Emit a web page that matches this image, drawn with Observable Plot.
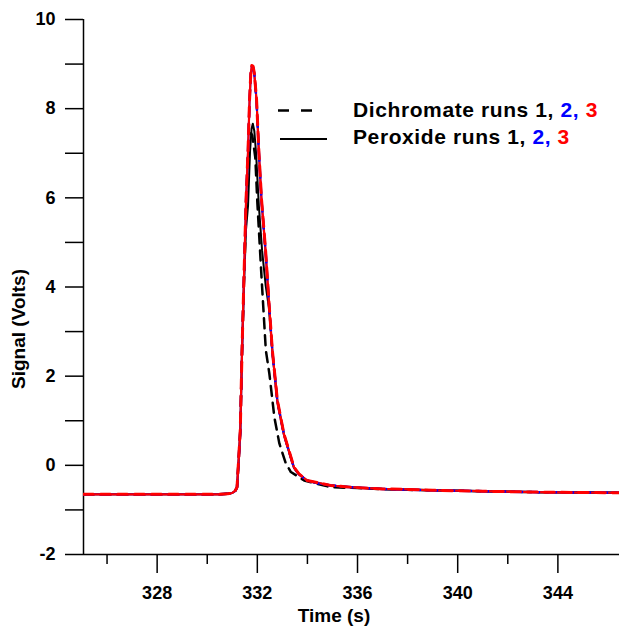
<!DOCTYPE html>
<html><head><meta charset="utf-8">
<script src="https://cdn.jsdelivr.net/npm/d3@7"></script>
<script src="https://cdn.jsdelivr.net/npm/@observablehq/plot@0.6"></script>
<style>
body{margin:0;background:#fff}
#chart{position:relative;width:619px;height:628px}
</style>
</head><body><div id="chart"></div>
<script>
// ---- axis ticks ----
const xDomain = [325.06, 346.46];
const yDomain = [-2, 10];
const xMajorTicks = [328, 332, 336, 340, 344];
const xMinorTicks = [326, 330, 334, 338, 342];
const yMajorTicks = [-2, 0, 2, 4, 6, 8, 10];
const yMinorTicks = [-1, 1, 3, 5, 7, 9];
const xLabel = "Time (s)";
const yLabel = "Signal (Volts)";

// ---- runs 2 and 3 (blue, red) ----
const tColored = [325.06, 328, 330.5, 330.8, 331.0, 331.12, 331.19, 331.25, 331.32, 331.39, 331.47, 331.55, 331.63, 331.69, 331.74, 331.78, 331.83, 331.88, 331.97, 332.06, 332.17, 332.33, 332.46, 332.6, 332.8, 333.06, 333.26, 333.46, 333.66, 333.99, 334.33, 334.92, 335.5, 336.0, 337, 338, 339, 340, 341, 342, 343, 344, 345, 346.46];
const dichromate2 = [-0.65, -0.65, -0.65, -0.64, -0.62, -0.57, -0.49, 0.08, 0.78, 2.58, 4.26, 5.94, 7.06, 8.18, 8.78, 8.95, 8.93, 8.78, 8.18, 7.04, 5.92, 4.8, 3.68, 2.56, 1.44, 0.7, 0.32, -0.05, -0.2, -0.34, -0.39, -0.45, -0.48, -0.5, -0.53, -0.545, -0.56, -0.57, -0.58, -0.59, -0.6, -0.605, -0.61, -0.615];
const dichromate3 = [-0.65, -0.65, -0.65, -0.64, -0.62, -0.57, -0.49, 0.1, 0.8, 2.6, 4.28, 5.96, 7.08, 8.2, 8.8, 8.97, 8.95, 8.8, 8.2, 7.06, 5.95, 4.82, 3.7, 2.58, 1.46, 0.71, 0.34, -0.04, -0.19, -0.34, -0.38, -0.45, -0.48, -0.5, -0.53, -0.54, -0.56, -0.57, -0.58, -0.59, -0.6, -0.605, -0.61, -0.615];
const peroxide2 = [-0.65, -0.65, -0.65, -0.64, -0.62, -0.58, -0.5, 0.05, 0.75, 2.55, 4.22, 5.9, 7.03, 8.15, 8.76, 8.94, 8.92, 8.76, 8.16, 7.02, 5.9, 4.78, 3.67, 2.55, 1.43, 0.69, 0.31, -0.05, -0.2, -0.34, -0.39, -0.45, -0.48, -0.5, -0.53, -0.545, -0.56, -0.57, -0.58, -0.59, -0.6, -0.605, -0.61, -0.615];
const peroxide3 = [-0.65, -0.65, -0.65, -0.64, -0.62, -0.57, -0.49, 0.09, 0.79, 2.59, 4.27, 5.95, 7.07, 8.19, 8.79, 8.96, 8.94, 8.79, 8.19, 7.05, 5.94, 4.81, 3.69, 2.57, 1.45, 0.7, 0.33, -0.04, -0.19, -0.34, -0.38, -0.45, -0.48, -0.5, -0.53, -0.54, -0.56, -0.57, -0.58, -0.59, -0.6, -0.605, -0.61, -0.615];

// ---- run 1 (black) ----
const tDichromate1 = [325.06, 328, 330.5, 330.8, 331.0, 331.12, 331.19, 331.25, 331.32, 331.39, 331.47, 331.55, 331.62, 331.69, 331.75, 331.8, 331.86, 331.92, 332.0, 332.17, 332.34, 332.48, 332.68, 332.88, 333.14, 333.34, 333.87, 334.93, 336.0, 337, 338, 339, 340, 341, 342, 343, 344, 345, 346.46];
const dichromate1 = [-0.65, -0.65, -0.65, -0.64, -0.62, -0.57, -0.49, 0.08, 0.78, 2.58, 4.2, 5.7, 6.8, 7.35, 7.45, 7.4, 7.15, 6.9, 5.9, 4.2, 2.58, 2.06, 1.08, 0.49, 0.04, -0.15, -0.34, -0.49, -0.51, -0.535, -0.55, -0.56, -0.57, -0.58, -0.59, -0.6, -0.605, -0.61, -0.615];
const tPeroxide1 = [325.06, 328, 330.5, 330.8, 331.0, 331.12, 331.19, 331.25, 331.32, 331.39, 331.47, 331.55, 331.63, 331.71, 331.77, 331.82, 331.88, 331.95, 332.06, 332.19, 332.33, 332.46, 332.6, 332.8, 333.06, 333.26, 333.46, 333.66, 333.99, 334.33, 334.92, 335.5, 336.0, 337, 338, 339, 340, 341, 342, 343, 344, 345, 346.46];
const peroxide1 = [-0.65, -0.65, -0.65, -0.64, -0.62, -0.57, -0.5, 0.05, 0.75, 2.55, 4.1, 5.3, 5.83, 7.06, 7.55, 7.66, 7.5, 7.0, 5.83, 4.82, 4.05, 3.55, 2.55, 1.43, 0.7, 0.32, -0.05, -0.2, -0.34, -0.39, -0.45, -0.48, -0.5, -0.53, -0.545, -0.56, -0.57, -0.58, -0.59, -0.6, -0.605, -0.61, -0.615];

const legendLabels = ["Dichromate runs ", "Peroxide runs "];
const runLabels = ["1", "2", "3"];

const BLUE = "#0000ff", RED = "#ff0000", BLACK = "#000000";
const rows = (ts, vs) => ts.map((t, i) => ({t, v: vs[i]}));

const series = [
  {data: rows(tPeroxide1, peroxide1), stroke: BLACK, width: 2, dash: null},
  {data: rows(tDichromate1, dichromate1), stroke: BLACK, width: 2.5, dash: "10,7"},
  {data: rows(tColored, peroxide2), stroke: BLUE, width: 2, dash: null},
  {data: rows(tColored, peroxide3), stroke: RED, width: 2.2, dash: null},
  {data: rows(tColored, dichromate2), stroke: BLUE, width: 2.5, dash: "10,7"},
  {data: rows(tColored, dichromate3), stroke: RED, width: 3, dash: "10,7"}
];

const font = "'Liberation Sans', Arial, Helvetica, sans-serif";
const fmt = d => String(d);

const chart = Plot.plot({
  width: 619, height: 628,
  marginLeft: 83, marginRight: 0, marginTop: 19, marginBottom: 74,
  x: {domain: xDomain, label: null},
  y: {domain: yDomain, label: null},
  style: {fontFamily: font, fontWeight: "bold", fontSize: "18px", color: "#000", background: "#fff", overflow: "visible"},
  marks: [
    Plot.axisX(xMinorTicks, {tickSize: 10, tickFormat: () => "", label: null, strokeWidth: 1.5}),
    Plot.axisX(xMajorTicks, {tickSize: 19, tickPadding: 13, tickFormat: fmt, label: null, strokeWidth: 1.5, fontSize: 18}),
    Plot.axisY(yMinorTicks, {tickSize: 18, tickFormat: () => "", label: null, strokeWidth: 1.5}),
    Plot.axisY(yMajorTicks, {tickSize: 18, tickPadding: 10, tickFormat: fmt, label: null, strokeWidth: 1.5, fontSize: 18}),
    Plot.ruleX([xDomain[0]], {strokeWidth: 1.5}),
    Plot.ruleY([yDomain[0]], {strokeWidth: 1.5}),
    ...series.map(s => Plot.line(s.data, {x: "t", y: "v", stroke: s.stroke, strokeWidth: s.width, strokeDasharray: s.dash, clip: true}))
  ]
});

document.getElementById("chart").appendChild(chart);

const svg = d3.select(chart);
// axis titles
const at = svg.append("g").attr("font-family", font).attr("font-weight", "bold").attr("font-size", 19).attr("fill", BLACK);
at.append("text").attr("x", 334).attr("y", 622).attr("text-anchor", "middle").text(xLabel);
at.append("text").attr("transform", "translate(25,329) rotate(-90)").attr("text-anchor", "middle").text(yLabel);

// legend
const lg = svg.append("g").attr("font-family", font).attr("font-weight", "bold").attr("font-size", 21);
lg.append("line").attr("x1", 278).attr("x2", 314).attr("y1", 110.5).attr("y2", 110.5)
  .attr("stroke", BLACK).attr("stroke-width", 2.5).attr("stroke-dasharray", "11,12");
lg.append("line").attr("x1", 280).attr("x2", 327).attr("y1", 139).attr("y2", 139)
  .attr("stroke", BLACK).attr("stroke-width", 2);
const colors = [BLACK, BLUE, RED];
legendLabels.forEach((lab, i) => {
  const t = lg.append("text").attr("x", 353).attr("y", 117 + i * 27)
    .attr("text-anchor", "start").attr("letter-spacing", "0.6px");
  t.append("tspan").attr("fill", BLACK).text(lab);
  runLabels.forEach((r, j) => {
    t.append("tspan").attr("fill", colors[j]).text(r + (j < 2 ? "," : ""));
    if (j < 2) t.append("tspan").text(" ");
  });
});
</script>
</body></html>
